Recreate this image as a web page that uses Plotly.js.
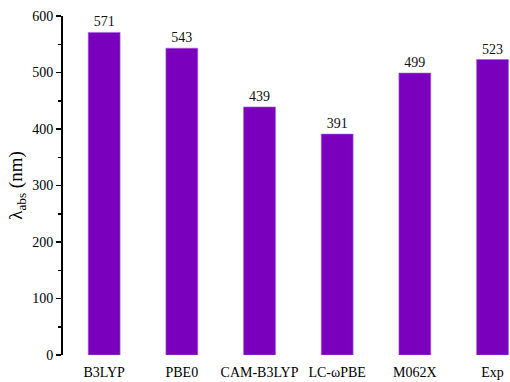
<!DOCTYPE html>
<html><head><meta charset="utf-8">
<script src="https://cdn.plot.ly/plotly-3.0.1.min.js"></script>
<style>html,body{margin:0;padding:0;background:#fff}</style>
</head><body>
<div id="chart" style="width:510px;height:382px"></div>
<script>
const categories = ["B3LYP", "PBE0", "CAM-B3LYP", "LC-\u03c9PBE", "M062X", "Exp"];
const values = [571, 543, 439, 391, 499, 523];
const yTicks = [0, 100, 200, 300, 400, 500, 600];
const FONT = '"Liberation Serif", "Times New Roman", Times, serif';

const trace = {
  type: 'bar',
  x: categories,
  y: values,
  width: 0.41,
  marker: {color: '#7b00bd', line: {color: '#a060d8', width: 0.6}},
  text: values.map(String),
  textposition: 'outside',
  cliponaxis: false,
  textfont: {family: FONT, size: 14, color: '#111'},
  hoverinfo: 'none'
};

const layout = {
  width: 510, height: 382,
  margin: {l: 63, r: 0, t: 16, b: 27},
  paper_bgcolor: '#fff', plot_bgcolor: '#fff',
  showlegend: false,
  font: {family: FONT, color: '#000'},
  xaxis: {
    type: 'category',
    range: [-0.53, 5.225],
    showline: false, showgrid: false, zeroline: false,
    ticks: '', ticklabelstandoff: 7,
    tickfont: {family: FONT, size: 14, color: '#000'}
  },
  yaxis: {
    range: [0, 600],
    tickvals: yTicks,
    showline: true, linecolor: '#000', linewidth: 2,
    showgrid: false, zeroline: false,
    ticks: 'outside', ticklen: 5, tickwidth: 1.5, tickcolor: '#000',
    minor: {dtick: 50, ticks: 'outside', ticklen: 3, tickwidth: 1.5, tickcolor: '#000'},
    tickfont: {family: FONT, size: 14, color: '#000'},
    title: {text: '\u03bb<sub>abs</sub> (nm)', font: {family: FONT, size: 19, color: '#000'}, standoff: 5}
  }
};

Plotly.newPlot('chart', [trace], layout, {staticPlot: true, displayModeBar: false});
</script>
</body></html>
